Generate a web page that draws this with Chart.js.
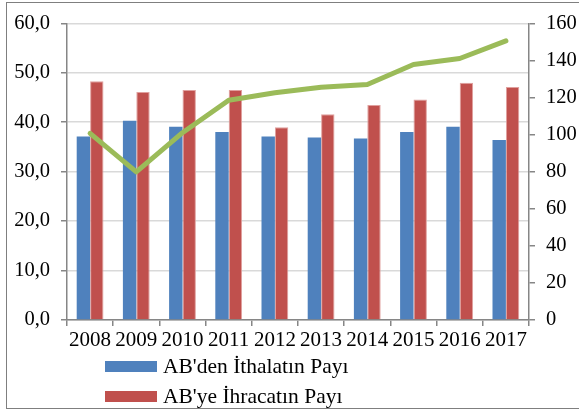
<!DOCTYPE html>
<html>
<head>
<meta charset="utf-8">
<script src="https://cdn.jsdelivr.net/npm/chart.js@4/dist/chart.umd.min.js"></script>
<style>
  html, body { margin: 0; padding: 0; background: #fff; }
  #wrap { position: relative; width: 579px; height: 412px; overflow: hidden; }
  #frame { position: absolute; left: 6px; top: 2px; width: 600px; height: 407px; border: 1.5px solid #7f7f7f; box-sizing: border-box; pointer-events: none; }
  canvas { position: absolute; left: 0; top: 0; }
  .leg { position: absolute; left: 105px; font-family: "Liberation Serif", serif; font-size: 21.5px; color: #000; line-height: 21px; white-space: nowrap; }
  .leg span { display: inline-block; width: 52px; height: 11px; vertical-align: middle; margin-right: 6px; position: relative; top: -2px; }
</style>
</head>
<body>
<div id="wrap">
  <canvas id="chart" width="579" height="412"></canvas>
  <div id="frame"></div>
  <div class="leg" style="top:356px"><span style="background:#4f81bd"></span>AB'den İthalatın Payı</div>
  <div class="leg" style="top:386px"><span style="background:#c0504d"></span>AB'ye İhracatın Payı</div>
</div>
<script>
// data
const years = ['2008', '2009', '2010', '2011', '2012', '2013', '2014', '2015', '2016', '2017'];
const importShare = [37.1, 40.3, 39.1, 38.0, 37.1, 36.9, 36.7, 38.0, 39.1, 36.4];
const exportShare = [48.3, 46.1, 46.5, 46.5, 39.0, 41.6, 43.5, 44.6, 48.0, 47.1];
const indexLine = [100.6, 79.9, 101, 118.5, 122.5, 125.5, 127, 137.8, 141, 150.5];

const axisGray = '#868686';
const serif = '"Liberation Serif", "Times New Roman", serif';

new Chart(document.getElementById('chart'), {
    type: 'bar',
    data: {
        labels: years,
        datasets: [
            {
                type: 'line',
                label: 'Endeks',
                data: indexLine,
                yAxisID: 'y1',
                borderColor: '#9bbb59',
                borderWidth: 5,
                borderCapStyle: 'round',
                borderJoinStyle: 'round',
                pointRadius: 0,
                tension: 0,
                order: 0
            },
            {
                label: "AB'den İthalatın Payı",
                data: importShare,
                backgroundColor: '#4f81bd',
                borderColor: '#4f81bd',
                borderWidth: 0,
                yAxisID: 'y',
                order: 1
            },
            {
                label: "AB'ye İhracatın Payı",
                data: exportShare,
                backgroundColor: '#c0504d',
                borderColor: '#e0a09e',
                borderWidth: { top: 1, left: 1, right: 1, bottom: 0 },
                yAxisID: 'y',
                order: 1
            }
        ]
    },
    options: {
        responsive: false,
        animation: false,
        layout: { padding: { top: 23, bottom: 57, left: 0, right: 0 } },
        datasets: { bar: { categoryPercentage: 0.58, barPercentage: 1.0 } },
        plugins: {
            legend: { display: false },
            tooltip: { enabled: false }
        },
        scales: {
            x: {
                offset: true,
                grid: { offset: true, drawOnChartArea: false, tickLength: 6, tickColor: axisGray, lineWidth: 1.5 },
                border: { color: axisGray, width: 1.5 },
                ticks: { color: '#000', font: { family: serif, size: 21 }, autoSkip: false, maxRotation: 0, padding: 2 },
                afterFit: s => { s.height = 35; }
            },
            y: {
                position: 'left',
                min: 0, max: 60,
                grid: { color: '#d9d9d9', lineWidth: 1.5, tickLength: 6, tickColor: axisGray },
                border: { color: axisGray, width: 1.5 },
                ticks: {
                    stepSize: 10, color: '#000', padding: 11,
                    font: { family: serif, size: 20.5 },
                    callback: v => v.toFixed(1).replace('.', ',')
                },
                afterFit: s => { s.width = 67; }
            },
            y1: {
                position: 'right',
                min: 0, max: 160,
                grid: { drawOnChartArea: false, tickLength: 6, tickColor: axisGray, lineWidth: 1.5 },
                border: { color: axisGray, width: 1.5 },
                ticks: { stepSize: 20, color: '#000', padding: 11, font: { family: serif, size: 20.5 } },
                afterFit: s => { s.width = 50; }
            }
        }
    }
});
</script>
</body>
</html>
